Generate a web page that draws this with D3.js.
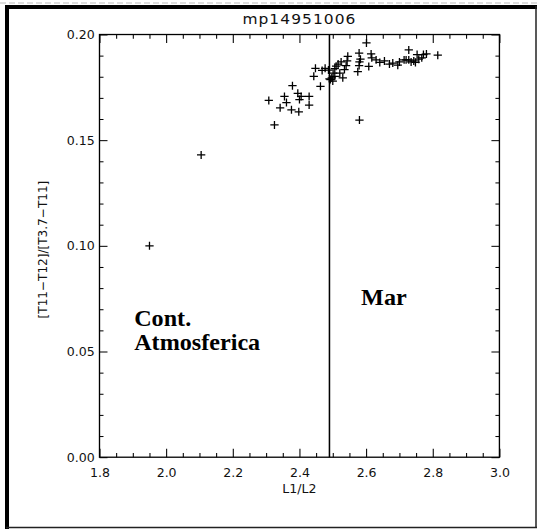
<!DOCTYPE html>
<html>
<head>
<meta charset="utf-8">
<script src="https://cdn.jsdelivr.net/npm/d3@7"></script>
<style>
  html, body { margin: 0; padding: 0; background: #fff; }
  svg { display: block; }
  .tick text { font-family: "DejaVu Sans", sans-serif; font-size: 13px; fill: #111; }
</style>
</head>
<body>
<svg id="chart" width="540" height="532"></svg>
<script>
// Ratio L1/L2 for each pixel sample
const ratioL1L2 = [
  1.950, 2.105, 2.580, 2.325,
  2.308, 2.355, 2.361, 2.342, 2.376, 2.398, 2.395, 2.405, 2.400, 2.429, 2.429, 2.379,
  2.463, 2.443, 2.448, 2.468, 2.477, 2.487, 2.497, 2.493, 2.500, 2.490, 2.506, 2.501,
  2.506, 2.516, 2.521, 2.530, 2.535, 2.540, 2.543, 2.545, 2.510, 2.525,
  2.601, 2.579, 2.583, 2.580, 2.615, 2.617, 2.608, 2.579, 2.575, 2.641, 2.670, 2.680,
  2.695, 2.714, 2.728, 2.728, 2.743, 2.748, 2.753, 2.758, 2.767, 2.772, 2.781, 2.815,
  2.720, 2.735, 2.655, 2.630, 2.700
];
// Split-window index [T11-T12]/[T3.7-T11] for the same samples
const splitIndex = [
  0.1000, 0.1430, 0.1595, 0.1572,
  0.1688, 0.1707, 0.1678, 0.1653, 0.1644, 0.1634, 0.1722, 0.1707, 0.1692, 0.1707, 0.1666, 0.1758,
  0.1755, 0.1802, 0.1840, 0.1830, 0.1840, 0.1832, 0.1795, 0.1787, 0.1780, 0.1790, 0.1802, 0.1817,
  0.1839, 0.1860, 0.1817, 0.1795, 0.1834, 0.1853, 0.1875, 0.1897, 0.1850, 0.1870,
  0.1960, 0.1912, 0.1883, 0.1870, 0.1908, 0.1890, 0.1849, 0.1853, 0.1824, 0.1868, 0.1860, 0.1865,
  0.1855, 0.1880, 0.1927, 0.1880, 0.1875, 0.1868, 0.1905, 0.1883, 0.1890, 0.1905, 0.1908, 0.1902,
  0.1880, 0.1870, 0.1875, 0.1880, 0.1870
];

const xMajorTicks = [1.8, 2.0, 2.2, 2.4, 2.6, 2.8, 3.0];
const xMinorTicks = [1.85, 1.9, 1.95, 2.05, 2.1, 2.15, 2.25, 2.3, 2.35, 2.45, 2.5, 2.55, 2.65, 2.7, 2.75, 2.85, 2.9, 2.95];
const yMajorTicks = [0.00, 0.05, 0.10, 0.15, 0.20];
const yMinorTicks = [0.01, 0.02, 0.03, 0.04, 0.06, 0.07, 0.08, 0.09, 0.11, 0.12, 0.13, 0.14, 0.16, 0.17, 0.18, 0.19];

const titleText = "mp14951006";
const xTitle = "L1/L2";
const yTitle = "[T11\u2212T12]/[T3.7\u2212T11]";
const dividerValue = 2.49;   // land / sea threshold
const regionLabels = [
  { lines: ["Cont.", "Atmosferica"], x: 1.904, y: 0.0620 },
  { lines: ["Mar"], x: 2.585, y: 0.0721 }
];

const svg = d3.select("#chart");

// page frame (scanned sheet edges)
svg.append("line").attr("x1", 0).attr("x2", 540).attr("y1", 3).attr("y2", 3)
  .attr("stroke", "#bbb").attr("stroke-width", 1).attr("stroke-dasharray", "6,3");
svg.append("line").attr("x1", 5).attr("x2", 537).attr("y1", 7).attr("y2", 7)
  .attr("stroke", "#000").attr("stroke-width", 4);
svg.append("line").attr("x1", 7).attr("x2", 7).attr("y1", 5).attr("y2", 529)
  .attr("stroke", "#000").attr("stroke-width", 4);
svg.append("line").attr("x1", 536).attr("x2", 536).attr("y1", 6).attr("y2", 528)
  .attr("stroke", "#222").attr("stroke-width", 1.5);
svg.append("line").attr("x1", 6).attr("x2", 537).attr("y1", 527.5).attr("y2", 527.5)
  .attr("stroke", "#222").attr("stroke-width", 1.5);

// plot drawn in the device frame, then fitted to the page
const root = svg.append("g").attr("transform", "translate(0,2) scale(0.966,0.929)");
const plotL = 103, plotR = 517, plotT = 35, plotB = 490;

const x = d3.scaleLinear().domain([1.8, 3.0]).range([plotL, plotR]);
const y = d3.scaleLinear().domain([0, 0.2]).range([plotB, plotT]);

const fmt2 = d3.format(".2f"), fmt1 = d3.format(".1f");
const xLen = 0.02 * (plotB - plotT), yLen = 0.02 * (plotR - plotL);

function styleAxis(g) {
  g.select(".domain").remove();
  g.selectAll(".tick line").attr("stroke", "#000").attr("stroke-width", 1.1);
}

// bottom axis
root.append("g").attr("transform", `translate(0,${plotB})`)
  .call(d3.axisBottom(x).tickValues(xMajorTicks).tickSize(-xLen).tickPadding(12).tickFormat(fmt1))
  .call(styleAxis);
root.append("g").attr("transform", `translate(0,${plotB})`)
  .call(d3.axisBottom(x).tickValues(xMinorTicks).tickSize(-xLen / 2).tickFormat(""))
  .call(styleAxis);
// top axis
root.append("g").attr("transform", `translate(0,${plotT})`)
  .call(d3.axisTop(x).tickValues(xMajorTicks).tickSize(-xLen).tickFormat(""))
  .call(styleAxis);
root.append("g").attr("transform", `translate(0,${plotT})`)
  .call(d3.axisTop(x).tickValues(xMinorTicks).tickSize(-xLen / 2).tickFormat(""))
  .call(styleAxis);
// left axis
root.append("g").attr("transform", `translate(${plotL},0)`)
  .call(d3.axisLeft(y).tickValues(yMajorTicks).tickSize(-yLen).tickPadding(5).tickFormat(fmt2))
  .call(styleAxis);
root.append("g").attr("transform", `translate(${plotL},0)`)
  .call(d3.axisLeft(y).tickValues(yMinorTicks).tickSize(-yLen / 2).tickFormat(""))
  .call(styleAxis);
// right axis
root.append("g").attr("transform", `translate(${plotR},0)`)
  .call(d3.axisRight(y).tickValues(yMajorTicks).tickSize(-yLen).tickFormat(""))
  .call(styleAxis);
root.append("g").attr("transform", `translate(${plotR},0)`)
  .call(d3.axisRight(y).tickValues(yMinorTicks).tickSize(-yLen / 2).tickFormat(""))
  .call(styleAxis);

// plot box
root.append("rect").attr("x", plotL).attr("y", plotT)
  .attr("width", plotR - plotL).attr("height", plotB - plotT)
  .attr("fill", "none").attr("stroke", "#000").attr("stroke-width", 1.4);

// divider
root.append("line")
  .attr("x1", x(dividerValue)).attr("x2", x(dividerValue))
  .attr("y1", y(0)).attr("y2", y(0.2))
  .attr("stroke", "#000").attr("stroke-width", 1.6);

// plus markers
const arm = 4.3;
const pts = ratioL1L2.map((v, i) => [v, splitIndex[i]]);
const marks = root.append("g").attr("stroke", "#000").attr("stroke-width", 1.35).attr("fill", "none");
marks.selectAll("path").data(pts).join("path")
  .attr("d", d => {
    const cx = x(d[0]), cy = y(d[1]);
    return `M${cx - arm},${cy}H${cx + arm}M${cx},${cy - arm}V${cy + arm}`;
  });

// titles
root.append("text").attr("x", (plotL + plotR) / 2).attr("y", 24)
  .attr("text-anchor", "middle")
  .attr("font-family", "DejaVu Sans, sans-serif").attr("font-size", 16)
  .attr("letter-spacing", 1.1).attr("fill", "#111")
  .text(titleText);
root.append("text").attr("x", (plotL + plotR) / 2).attr("y", 529)
  .attr("text-anchor", "middle")
  .attr("font-family", "DejaVu Sans, sans-serif").attr("font-size", 13).attr("fill", "#111")
  .text(xTitle);
root.append("text")
  .attr("transform", `translate(49,${(plotT + plotB) / 2 + 4}) rotate(-90)`)
  .attr("text-anchor", "middle")
  .attr("font-family", "DejaVu Sans, sans-serif").attr("font-size", 13).attr("fill", "#111")
  .text(yTitle);

// region annotations
regionLabels.forEach(r => {
  const t = root.append("text")
    .attr("x", x(r.x)).attr("y", y(r.y))
    .attr("font-family", "Liberation Serif, Times New Roman, serif")
    .attr("font-size", 25).attr("font-weight", "bold").attr("fill", "#000");
  r.lines.forEach((ln, i) => {
    t.append("tspan").attr("x", x(r.x)).attr("dy", i === 0 ? 0 : 26).text(ln);
  });
});
</script>
</body>
</html>
